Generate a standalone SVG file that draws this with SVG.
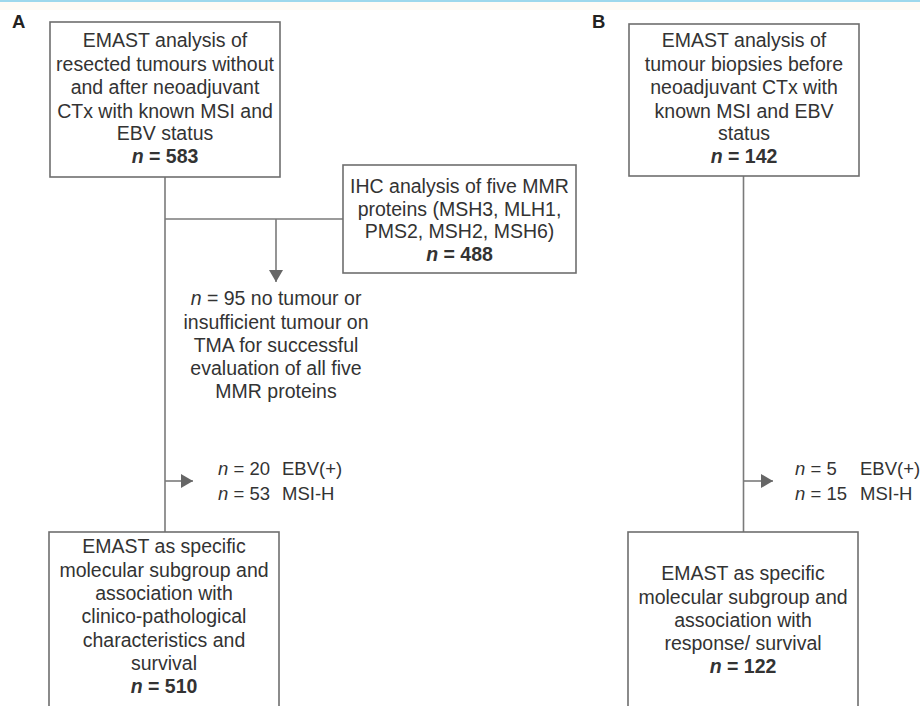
<svg xmlns="http://www.w3.org/2000/svg" width="920" height="706" viewBox="0 0 920 706">
<defs>
<marker id="ah" markerUnits="userSpaceOnUse" markerWidth="14" markerHeight="14" viewBox="0 0 12 14" refX="12" refY="7" orient="auto">
<path d="M0,0 L12,7 L0,14 Z" fill="#666"/>
</marker>
<style>
.box{fill:#fff;stroke:#6e6e6e;stroke-width:1.6}
.ln{fill:none;stroke:#7a7a7a;stroke-width:1.6}
.t{font-family:"Liberation Sans",Arial,sans-serif;font-size:19.5px;fill:#333;text-anchor:middle}
.s{font-family:"Liberation Sans",Arial,sans-serif;font-size:18.5px;fill:#333}
.b{font-weight:bold}
.i{font-style:italic}
.lbl{font-family:"Liberation Sans",Arial,sans-serif;font-size:18.5px;font-weight:bold;fill:#222}
</style>
</defs>
<rect x="0" y="0" width="920" height="706" fill="#fff"/>
<rect x="0" y="0" width="920" height="2" fill="#9fd8ec"/>
<rect x="0" y="2" width="920" height="8" fill="#fffbf5"/>

<text class="lbl" x="12" y="28">A</text>
<text class="lbl" x="592" y="28">B</text>

<g id="connectors">
<line class="ln" x1="165" y1="177" x2="165" y2="532"/>
<line class="ln" x1="165" y1="219" x2="343" y2="219"/>
<line class="ln" x1="276" y1="219" x2="276" y2="282" marker-end="url(#ah)"/>
<line class="ln" x1="165" y1="481" x2="193" y2="481" marker-end="url(#ah)"/>
<line class="ln" x1="743.5" y1="176" x2="743.5" y2="532"/>
<line class="ln" x1="743.5" y1="481" x2="773" y2="481" marker-end="url(#ah)"/>
</g>

<g id="a1">
<rect class="box" x="50" y="22" width="230" height="155"/>
<text class="t" x="165" y="47">EMAST analysis of</text>
<text class="t" x="165" y="70.5">resected tumours without</text>
<text class="t" x="165" y="94">and after neoadjuvant</text>
<text class="t" x="165" y="117.5">CTx with known MSI and</text>
<text class="t" x="165" y="140">EBV status</text>
<text class="t b" x="165" y="163"><tspan class="i">n</tspan> = 583</text>
</g>

<g id="ihc">
<rect class="box" x="343" y="165" width="233" height="108"/>
<text class="t" x="459.5" y="193">IHC analysis of five MMR</text>
<text class="t" x="459.5" y="215.5">proteins (MSH3, MLH1,</text>
<text class="t" x="459.5" y="238">PMS2, MSH2, MSH6)</text>
<text class="t b" x="459.5" y="260.5"><tspan class="i">n</tspan> = 488</text>
</g>

<g id="excluded">
<text class="t" x="276" y="305"><tspan class="i">n</tspan> = 95 no tumour or</text>
<text class="t" x="276" y="328.5">insufficient tumour on</text>
<text class="t" x="276" y="352">TMA for successful</text>
<text class="t" x="276" y="375">evaluation of all five</text>
<text class="t" x="276" y="398">MMR proteins</text>
</g>

<g id="a-sub">
<text class="s" x="218" y="475"><tspan class="i">n</tspan> = 20</text>
<text class="s" x="282" y="475">EBV(+)</text>
<text class="s" x="218" y="500"><tspan class="i">n</tspan> = 53</text>
<text class="s" x="282" y="500">MSI-H</text>
</g>

<g id="a2">
<rect class="box" x="49" y="532" width="230" height="190"/>
<text class="t" x="164" y="553">EMAST as specific</text>
<text class="t" x="164" y="576.5">molecular subgroup and</text>
<text class="t" x="164" y="600">association with</text>
<text class="t" x="164" y="623">clinico-pathological</text>
<text class="t" x="164" y="646.5">characteristics and</text>
<text class="t" x="164" y="670">survival</text>
<text class="t b" x="164" y="693"><tspan class="i">n</tspan> = 510</text>
</g>

<g id="b1">
<rect class="box" x="629" y="24" width="230" height="152"/>
<text class="t" x="744" y="47">EMAST analysis of</text>
<text class="t" x="744" y="70.5">tumour biopsies before</text>
<text class="t" x="744" y="94">neoadjuvant CTx with</text>
<text class="t" x="744" y="117.5">known MSI and EBV</text>
<text class="t" x="744" y="140">status</text>
<text class="t b" x="744" y="163"><tspan class="i">n</tspan> = 142</text>
</g>

<g id="b-sub">
<text class="s" x="795" y="475"><tspan class="i">n</tspan> = 5</text>
<text class="s" x="860" y="475">EBV(+)</text>
<text class="s" x="795" y="500"><tspan class="i">n</tspan> = 15</text>
<text class="s" x="860" y="500">MSI-H</text>
</g>

<g id="b2">
<rect class="box" x="628" y="532" width="230" height="190"/>
<text class="t" x="743" y="580">EMAST as specific</text>
<text class="t" x="743" y="603.5">molecular subgroup and</text>
<text class="t" x="743" y="627">association with</text>
<text class="t" x="743" y="650">response/ survival</text>
<text class="t b" x="743" y="673"><tspan class="i">n</tspan> = 122</text>
</g>
</svg>
